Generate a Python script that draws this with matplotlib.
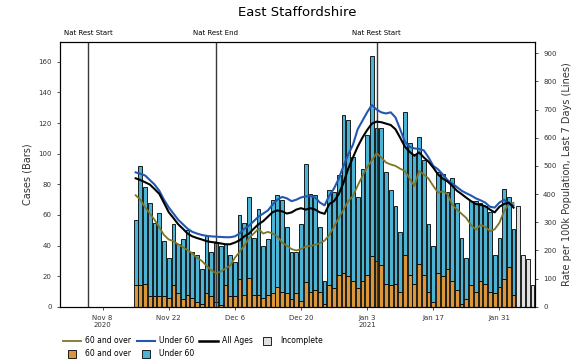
import matplotlib
matplotlib.use('Agg')
import numpy as np
import pandas as pd
import matplotlib.pyplot as plt
from matplotlib.lines import Line2D

# daily cases, Nov 15 2020 - Feb 7 2021 (last 4 days incomplete)
days = pd.date_range('2020-11-15', '2021-02-07', freq='D')
cases_total = [57, 92, 78, 68, 55, 61, 43, 32, 54, 41, 44, 50, 36, 34, 25, 46,
               36, 42, 40, 41, 34, 29, 60, 55, 72, 45, 64, 40, 44, 70, 73, 70,
               52, 36, 36, 54, 93, 74, 73, 52, 17, 76, 75, 86, 125, 122, 98,
               72, 90, 112, 164, 117, 117, 88, 76, 66, 49, 127, 107, 100, 111, 96,
               54, 40, 88, 87, 75, 84, 68, 45, 32, 69, 69, 68, 66, 62, 34, 45,
               77, 72, 51, 66, 34, 31, 14]
cases_60plus = [14, 14, 15, 7, 7, 7, 7, 6, 14, 9, 5, 8, 6, 3, 2, 9,
                7, 3, 1, 14, 7, 7, 18, 8, 19, 8, 8, 6, 8, 9, 13, 10,
                9, 5, 9, 4, 16, 10, 11, 10, 2, 14, 12, 21, 22, 20, 17,
                12, 17, 21, 33, 30, 27, 15, 14, 15, 10, 34, 21, 15, 28, 21,
                10, 3, 22, 20, 25, 17, 11, 2, 5, 14, 10, 17, 15, 10, 9, 13,
                18, 26, 8]
n_complete = len(cases_60plus)

# 7 day rates per 100k, Nov 15 - Feb 3
rate_60plus = [396, 380, 353, 331, 309, 282, 255, 239, 233, 222,
               212, 201, 190, 174, 163, 146, 130, 119, 125, 136,
               146, 174, 195, 217, 244, 260, 277, 260, 266, 260,
               250, 228, 217, 205, 200, 205, 214, 216, 220, 226,
               235, 255, 285, 315, 345, 375, 393, 430, 464, 495,
               520, 545, 530, 512, 505, 500, 490, 482, 455, 429,
               482, 470, 455, 429, 405, 410, 400, 363, 345, 330,
               315, 290, 274, 290, 285, 268, 275, 298, 340, 365, 369]
rate_under60 = [477, 472, 466, 450, 434, 412, 380, 353, 331, 309,
                293, 277, 266, 260, 255, 252, 250, 249, 248, 247,
                247, 250, 260, 277, 288, 304, 320, 331, 342, 363,
                380, 390, 385, 375, 380, 388, 392, 393, 388, 370,
                360, 395, 420, 455, 500, 540, 575, 630, 660, 690,
                716, 700, 690, 686, 690, 672, 630, 585, 568, 562,
                560, 555, 530, 500, 488, 470, 450, 438, 425, 412,
                403, 395, 385, 378, 370, 355, 352, 370, 380, 365, 360]
rate_all = [456, 450, 442, 434, 418, 401, 369, 336, 315, 293,
            277, 260, 250, 244, 239, 233, 230, 228, 225, 222,
            222, 228, 236, 250, 260, 277, 293, 304, 320, 336,
            342, 339, 331, 335, 345, 350, 345, 350, 345, 335,
            330, 365, 375, 400, 440, 490, 530, 568, 600, 627,
            650, 657, 655, 650, 645, 630, 600, 568, 550, 536,
            548, 530, 515, 494, 470, 455, 445, 430, 412, 400,
            387, 375, 365, 362, 357, 345, 335, 355, 365, 370, 352]

restrictions = ['2020-11-05', '2020-12-02', '2021-01-05']
restriction_labels = ['Nat Rest Start', 'Nat Rest End', 'Nat Rest Start']
tick_dates = ['2020-11-08', '2020-11-22', '2020-12-06', '2020-12-20',
              '2021-01-03', '2021-01-17', '2021-01-31']
tick_labels = ['Nov 8\n2020', 'Nov 22', 'Dec 6', 'Dec 20', 'Jan 3\n2021', 'Jan 17', 'Jan 31']

orange = '#d9973a'
blue = '#4bb3d4'
grey = '#e0e0e0'
olive = '#807426'
line_blue = '#2357b0'

fig = plt.figure(figsize=(5.72, 3.64), dpi=100)
ax = fig.add_axes([0.105, 0.157, 0.83, 0.728])

complete = days[:n_complete]
under60 = np.array(cases_total[:n_complete]) - np.array(cases_60plus)
ax.bar(complete, cases_60plus, width=0.8, color=orange, edgecolor='black', linewidth=0.6)
ax.bar(complete, under60, bottom=cases_60plus, width=0.8, color=blue,
       edgecolor='black', linewidth=0.6)
ax.bar(days[n_complete:], cases_total[n_complete:], width=0.8, color=grey,
       edgecolor='black', linewidth=0.6)

for d, lab in zip(restrictions, restriction_labels):
    ax.axvline(pd.Timestamp(d), color='#3a3a3a', linewidth=1)
    ax.text(pd.Timestamp(d), 1.034, lab, transform=ax.get_xaxis_transform(),
            ha='center', va='center', fontsize=5)

ax.set_ylim(0, 173)
ax.set_yticks(range(0, 161, 20))
ax.set_xlim(pd.Timestamp('2020-10-30'), pd.Timestamp('2021-02-07 12:00'))
ax.set_xticks(pd.to_datetime(tick_dates))
ax.set_xticklabels(tick_labels)
ax.set_ylabel('Cases (Bars)', fontsize=7, color='#333333')
ax.tick_params(labelsize=5, length=2.5, width=0.6, colors='#333333')

ax2 = ax.twinx()
ax2.plot(complete, rate_60plus, color=olive, linewidth=1.3)
ax2.plot(complete, rate_under60, color=line_blue, linewidth=1.5)
ax2.plot(complete, rate_all, color='black', linewidth=1.5)
ax2.set_ylim(0, 940)
ax2.set_yticks(range(0, 901, 100))
ax2.set_ylabel('Rate per 100k Population, Last 7 Days (Lines)', fontsize=7, color='#333333')
ax2.tick_params(labelsize=5, length=2.5, width=0.6, colors='#333333')

fig.text(0.52, 0.967, 'East Staffordshire', ha='center', va='center', fontsize=9.5)

handles = [Line2D([], [], color=olive, linewidth=1.3),
           Line2D([], [], marker='s', linestyle='none', markersize=6,
                  markerfacecolor=orange, markeredgecolor='black', markeredgewidth=0.6),
           Line2D([], [], color=line_blue, linewidth=1.5),
           Line2D([], [], marker='s', linestyle='none', markersize=6,
                  markerfacecolor=blue, markeredgecolor='black', markeredgewidth=0.6),
           Line2D([], [], color='black', linewidth=1.8),
           Line2D([], [], marker='s', linestyle='none', markersize=6,
                  markerfacecolor=grey, markeredgecolor='black', markeredgewidth=0.6)]
labels = ['60 and over', '60 and over', 'Under 60', 'Under 60', 'All Ages', 'Incomplete']
ax.legend(handles, labels, loc='upper left', bbox_to_anchor=(0, -0.1), ncol=4,
          frameon=False, fontsize=5.5, handlelength=2.4, handletextpad=0.5,
          columnspacing=0.7, labelspacing=0.5, borderaxespad=0)

fig.savefig('out.png', dpi=100)
